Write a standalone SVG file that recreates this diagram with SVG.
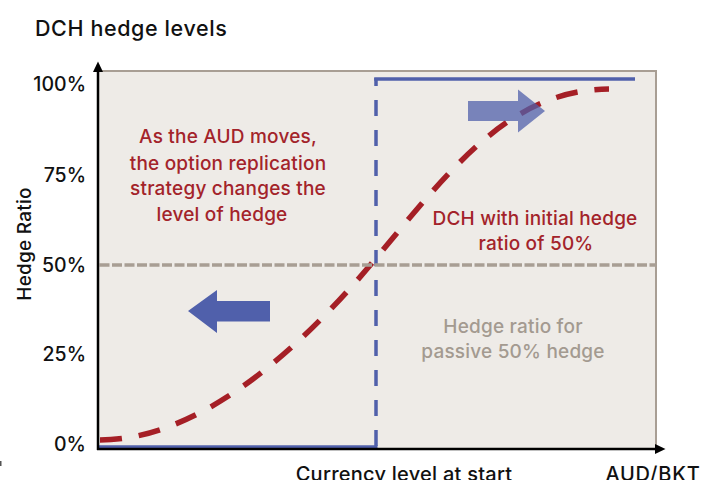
<svg xmlns="http://www.w3.org/2000/svg" width="715" height="480" viewBox="0 0 715 480">
  <defs>
    <style>
      text { font-family: Inter, "DejaVu Sans", "Liberation Sans", sans-serif; font-weight: 500; }
      .title { font-size: 21.5px; fill: #111; letter-spacing: 0.6px; }
      .tick { font-size: 19.5px; fill: #111; text-anchor: end; }
      .axis-label { font-size: 20px; fill: #111; letter-spacing: 0.25px; }
      .note-red { font-size: 19px; fill: #a3232a; text-anchor: middle; letter-spacing: 0.2px; }
      .note-grey { font-size: 19px; fill: #a39a90; text-anchor: middle; letter-spacing: 0.2px; }
      .axis { stroke: #000; stroke-width: 2.5; fill: none; }
      .hedge-step { stroke: #5060ab; stroke-width: 3.5; fill: none; }
      .dch-curve { stroke: #a51f26; stroke-width: 5.5; fill: none; stroke-dasharray: 22 17; }
      .passive { stroke: #a89e94; stroke-width: 3.5; fill: none; stroke-dasharray: 10 2.5; }
      .move-arrow { fill: #5060ab; }
    </style>
  </defs>

  <!-- chart title -->
  <text class="title" x="35" y="36">DCH hedge levels</text>

  <!-- plot area -->
  <g id="plot-area">
    <rect x="98" y="71" width="558" height="378" fill="#eeebe7" stroke="#a89e94" stroke-width="2"/>
  </g>

  <!-- fully hedged / unhedged step (blue) -->
  <g id="step-hedge">
    <line class="hedge-step" x1="98" y1="447" x2="377.5" y2="447"/>
    <line class="hedge-step" x1="376" y1="78" x2="376" y2="447" stroke-dasharray="16 14" stroke-dashoffset="8"/>
    <line class="hedge-step" x1="374.2" y1="79" x2="635" y2="79"/>
  </g>

  <!-- left move arrow -->
  <g id="arrow-down">
    <polygon class="move-arrow" points="188,311 217,290 217,301 270,301 270,321.5 217,321.5 217,333"/>
  </g>

  <!-- dynamic currency hedge curve (red) -->
  <g id="dch-curve">
    <path class="dch-curve" d="M100,440 C200,440 300,349 372,263 C452,167 510,90 609,89"/>
  </g>

  <!-- passive 50% hedge -->
  <g id="passive-hedge">
    <line class="passive" x1="99.5" y1="265" x2="655" y2="265"/>
  </g>

  <!-- right move arrow (translucent) -->
  <g id="arrow-up">
    <polygon class="move-arrow" fill-opacity="0.75" points="468,101 518,101 518,89.5 545,111 518,132.5 518,121 468,121"/>
  </g>

  <!-- axes -->
  <g id="axes">
    <line class="axis" x1="98" y1="450" x2="98" y2="70"/>
    <polygon points="98,61.5 93,72 103,72" fill="#000"/>
    <line class="axis" x1="97" y1="449" x2="657" y2="449"/>
    <polygon points="665.5,449 655,444 655,454" fill="#000"/>
  </g>

  <!-- tick labels -->
  <g id="y-ticks">
    <text class="tick" x="86" y="91">100%</text>
    <text class="tick" x="86" y="181.5">75%</text>
    <text class="tick" x="86" y="271.5">50%</text>
    <text class="tick" x="86" y="361">25%</text>
    <text class="tick" x="86" y="451">0%</text>
  </g>

  <!-- axis titles -->
  <text class="axis-label" transform="translate(31,244) rotate(-90)" text-anchor="middle" style="font-size:19px">Hedge Ratio</text>
  <text class="axis-label" x="404" y="481" text-anchor="middle">Currency level at start</text>
  <text class="axis-label" x="653" y="481" text-anchor="middle" style="letter-spacing:0.8px">AUD/BKT</text>

  <!-- annotations -->
  <g id="note-replication">
    <text class="note-red" x="228" y="143">As the AUD moves,</text>
    <text class="note-red" x="228" y="170">the option replication</text>
    <text class="note-red" x="228" y="195">strategy changes the</text>
    <text class="note-red" x="222" y="221">level of hedge</text>
  </g>
  <g id="note-dch">
    <text class="note-red" x="535" y="225">DCH with initial hedge</text>
    <text class="note-red" x="536" y="250">ratio of 50%</text>
  </g>
  <g id="note-passive">
    <text class="note-grey" x="513" y="333">Hedge ratio for</text>
    <text class="note-grey" x="513" y="358">passive 50% hedge</text>
  </g>

  <!-- small edge mark -->
  <rect x="0" y="461" width="1.5" height="5" fill="#555"/>
</svg>
